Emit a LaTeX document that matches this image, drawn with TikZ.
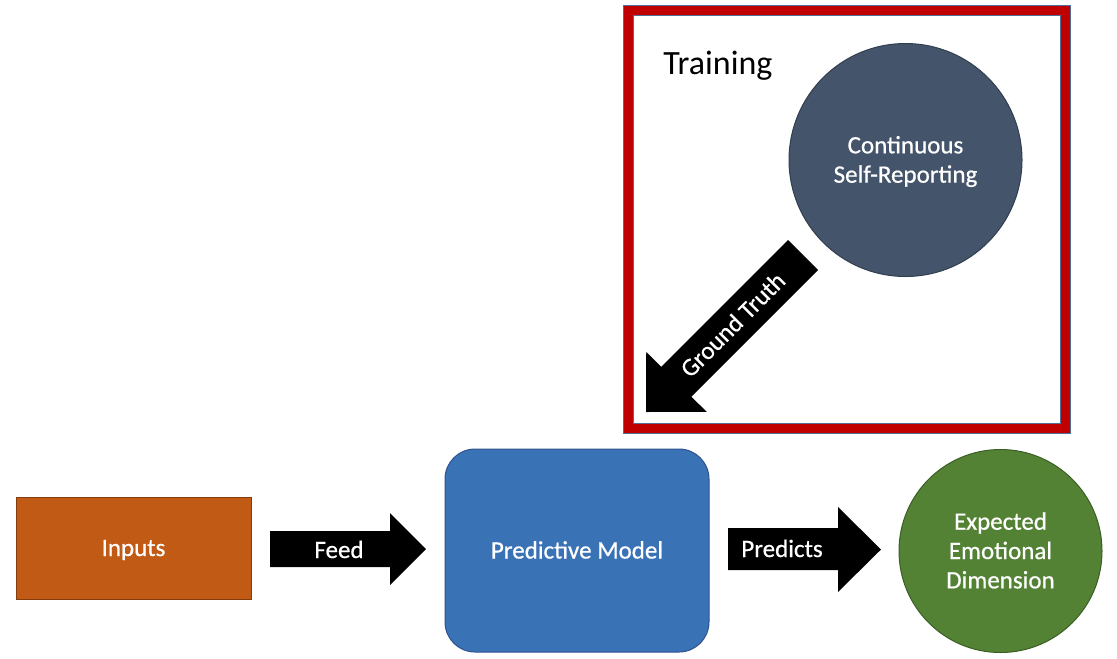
\documentclass[tikz,border=0pt]{standalone}
\usepackage{fontspec}
\setmainfont{Carlito}
\newfontfamily\labelfont[FakeBold=0.6]{Carlito}
\definecolor{frameRed}{HTML}{C00000}
\definecolor{frameBlue}{HTML}{4F6F99}
\definecolor{slateFill}{HTML}{44546A}
\definecolor{slateLine}{HTML}{323E4F}
\definecolor{inFill}{HTML}{C05A14}
\definecolor{inLine}{HTML}{843C0C}
\definecolor{modFill}{HTML}{3A72B6}
\definecolor{modLine}{HTML}{2F528F}
\definecolor{outFill}{HTML}{548235}
\definecolor{outLine}{HTML}{3B5E25}
\begin{document}
\begin{tikzpicture}[x=0.75pt,y=-0.75pt,
  lbl/.style={text=white, font=\labelfont\fontsize{18.75}{22}\selectfont, text height=12pt, text depth=0pt, inner sep=0pt, align=center},
  twolines/.style={text height=34pt},
  threelines/.style={text height=56pt},
  blockarrow/.style={fill=black},
  box/.style={lbl, line width=0.75pt}
]
\useasboundingbox (0,0) rectangle (1117,658);
% training frame
\draw[frameRed, line width=7.5pt] (628,10) rectangle (1065,428);
\draw[frameBlue, line width=0.75pt] (623,5) rectangle (1070,433);
\draw[frameBlue, line width=0.75pt] (633,15) rectangle (1060,423);
\node[anchor=base west, font=\fontsize{25.5}{30}\selectfont, inner sep=0pt] (training) at (663,74) {Training};

% nodes
\node[box, twolines, circle, fill=slateFill, draw=slateLine, minimum size=174.75pt] (self) at (905.5,160) {Continuous\\Self-Reporting};
\node[box, rectangle, fill=inFill, draw=inLine, minimum width=176.25pt, minimum height=76.5pt] (inputs) at (133.5,548) {Inputs};
\node[box, rectangle, rounded corners=22.5pt, fill=modFill, draw=modLine, minimum width=198pt, minimum height=152.25pt] (model) at (577,550.5) {Predictive Model};
\node[box, threelines, circle, fill=outFill, draw=outLine, minimum size=152.25pt] (out) at (1000.5,551) {Expected\\Emotional\\Dimension};

% block arrows
\fill[blockarrow] (788,240) -- (818,270) -- (691.25,396.75) -- (706.75,411.75) -- (646,412) -- (646.25,351.75) -- (661.25,366.75) -- cycle;
\node[lbl, rotate=45] (gt) at (733,325) {Ground Truth};

\fill[blockarrow] (270,531) -- (390,531) -- (390,513) -- (426,549) -- (390,585) -- (390,567) -- (270,567) -- cycle;
\node[lbl] (feed) at (339,550) {Feed};

\fill[blockarrow] (728,528) -- (838,528) -- (838,507) -- (881,549.5) -- (838,592) -- (838,570) -- (728,570) -- cycle;
\node[lbl] (predicts) at (782,549) {Predicts};
\end{tikzpicture}
\end{document}
